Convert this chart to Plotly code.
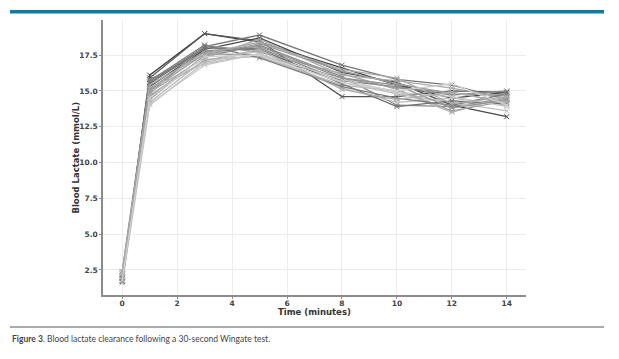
import plotly.graph_objects as go

time_min = [0, 1, 3, 5, 8, 10, 12, 14]

subjects = {
    "S1":  [1.8, 16.1, 19.0, 18.4, 16.6, 15.4, 14.5, 14.9],
    "S2":  [2.0, 15.9, 19.0, 18.5, 14.6, 14.6, 15.0, 14.9],
    "S3":  [2.2, 15.6, 18.1, 18.9, 16.8, 15.8, 15.4, 14.4],
    "S4":  [1.7, 15.3, 17.9, 18.7, 16.3, 15.6, 14.0, 13.2],
    "S5":  [2.1, 15.0, 17.6, 17.5, 15.9, 15.2, 14.9, 14.2],
    "S6":  [1.9, 14.6, 17.4, 18.2, 16.0, 14.0, 13.9, 14.5],
    "S7":  [2.3, 14.2, 17.2, 17.4, 15.4, 15.0, 13.5, 14.6],
    "S8":  [1.6, 14.0, 17.0, 17.8, 15.6, 14.8, 14.2, 13.6],
    "S9":  [2.4, 15.8, 17.7, 18.0, 15.7, 15.3, 14.7, 15.0],
    "S10": [2.0, 14.8, 18.2, 17.7, 16.2, 15.1, 13.6, 14.3],
    "S11": [1.8, 15.2, 16.9, 17.6, 15.2, 14.2, 14.5, 14.0],
    "S12": [2.2, 14.4, 17.5, 18.3, 16.4, 15.5, 14.8, 14.7],
    "S13": [1.9, 15.5, 18.0, 17.9, 15.5, 13.9, 14.3, 14.1],
    "S14": [2.1, 14.9, 17.3, 18.6, 16.1, 15.7, 15.2, 14.5],
    "S15": [1.7, 15.7, 18.2, 17.3, 15.3, 14.5, 14.0, 14.8],
    "S16": [2.3, 14.1, 16.8, 17.6, 15.8, 14.9, 14.6, 13.9],
    "S17": [2.0, 15.1, 17.8, 18.1, 15.9, 15.4, 13.8, 14.4],
    "S18": [1.6, 14.7, 17.1, 17.9, 15.1, 14.4, 14.9, 14.2],
    "S19": [2.4, 15.4, 17.6, 18.4, 16.5, 15.9, 14.1, 14.6],
    "S20": [1.8, 14.5, 17.4, 17.5, 15.6, 15.0, 15.5, 14.0],
}

grays = ["#444444", "#555555", "#777777", "#4a4a4a", "#999999", "#8a8a8a",
         "#b5b5b5", "#c2c2c2", "#888888", "#a0a0a0", "#bcbcbc", "#9a9a9a",
         "#6e6e6e", "#aaaaaa", "#7d7d7d", "#c8c8c8", "#939393", "#b0b0b0",
         "#a8a8a8", "#cfcfcf"]

x_ticks = [0, 2, 4, 6, 8, 10, 12, 14]
y_ticks = [2.5, 5.0, 7.5, 10.0, 12.5, 15.0, 17.5]

fig = go.Figure()
for (name, vals), c in zip(subjects.items(), grays):
    fig.add_trace(go.Scatter(
        x=time_min, y=vals, mode="lines+markers", name=name,
        line=dict(color=c, width=1.3),
        marker=dict(symbol="x-thin", size=5, line=dict(width=1, color=c), color=c),
        showlegend=False,
    ))

tickfont = dict(family="DejaVu Sans", size=7.5, color="#444444")
titlefont = dict(family="DejaVu Sans", size=8.5, color="#333333")
fig.update_layout(
    width=619, height=359,
    margin=dict(l=95, r=101, t=12, b=72),
    paper_bgcolor="white", plot_bgcolor="white",
    xaxis=dict(
        range=[-0.7, 14.7], tickvals=x_ticks, ticktext=[f"<b>{v}</b>" for v in x_ticks],
        showgrid=True, gridcolor="#ececec", gridwidth=1, zeroline=False,
        showline=True, linecolor="#8c8c8c", linewidth=1.5,
        ticks="outside", ticklen=2, tickcolor="#8c8c8c", tickfont=tickfont,
        ticklabelstandoff=-2,
    ),
    yaxis=dict(
        range=[0.75, 19.95], tickvals=y_ticks, ticktext=[f"<b>{v:.1f}</b>" for v in y_ticks],
        showgrid=True, gridcolor="#ececec", gridwidth=1, zeroline=False,
        showline=True, linecolor="#8c8c8c", linewidth=1.5,
        ticks="outside", ticklen=2, tickcolor="#8c8c8c", tickfont=tickfont,
        ticklabelstandoff=0,
    ),
    shapes=[
        dict(type="rect", xref="paper", yref="paper", x0=-0.22, x1=1.1844,
             y0=1.0236, y1=1.0364, fillcolor="#0b7ca3", line=dict(width=0), layer="above"),
        dict(type="line", xref="paper", yref="paper", x0=-0.22, x1=1.1844,
             y0=-0.1164, y1=-0.1164, line=dict(color="#555555", width=1)),
    ],
    annotations=[
        dict(xref="paper", yref="paper", x=0.5, y=-0.062, xanchor="center", yanchor="middle",
             showarrow=False, text="<b>Time (minutes)</b>", font=titlefont),
        dict(xref="paper", yref="paper", x=-0.066, y=0.5, xanchor="center", yanchor="middle",
             showarrow=False, textangle=-90, text="<b>Blood Lactate (mmol/L)</b>", font=titlefont),
        dict(xref="paper", yref="paper", x=-0.22, y=-0.16, xanchor="left", yanchor="middle",
             showarrow=False, align="left",
             text="<b>Figure 3</b>. Blood lactate clearance following a 30-second Wingate test.",
             font=dict(family="Lato", size=8.5, color="#444444")),
    ],
)

fig.write_html("out.html")
